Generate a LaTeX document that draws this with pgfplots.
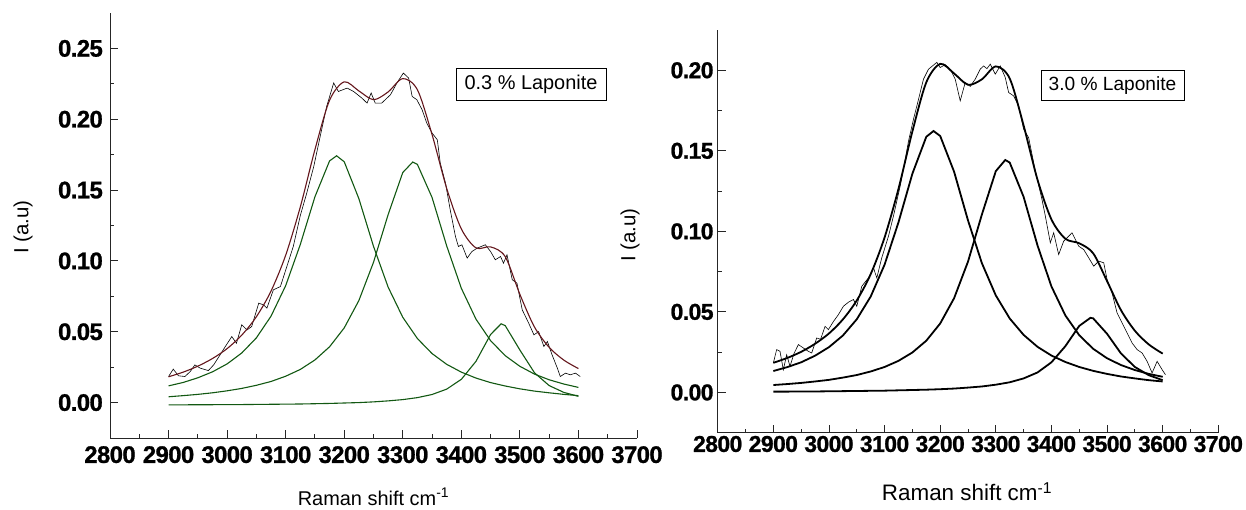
\documentclass[border=0pt]{standalone}
\usepackage{fontspec}
\setmainfont{Liberation Sans}
\newfontfamily\tickfont[LetterSpace=-2.5, BoldFeatures={FakeBold=1}]{Liberation Sans}
\usepackage{pgfplots}
\pgfplotsset{compat=1.18}
\definecolor{fitred}{RGB}{100,22,28}
\definecolor{compgreen}{RGB}{18,88,18}

\pgfplotsset{
  ramanaxis/.style={
    scale only axis,
    xmin=2800, xmax=3700,
    xtick={2800,2900,3000,3100,3200,3300,3400,3500,3600,3700},
    minor x tick num=1, minor y tick num=1,
    axis x line*=bottom, axis y line*=left,
    x axis line style={-}, y axis line style={-},
    axis line style={line width=0.9bp, black!85},
    every tick/.style={line width=0.9bp, black!85},
    tick align=inside,
    major tick length=8bp, minor tick length=4bp,
    /pgf/number format/assume math mode=true,
    xticklabel style={/pgf/number format/set thousands separator={}},
    yticklabel style={/pgf/number format/fixed, /pgf/number format/fixed zerofill,
                      /pgf/number format/precision=2},
    clip=false,
  },
  data/.style={black, line width=0.6bp},
}

\begin{document}
\begin{tikzpicture}
\useasboundingbox (0,0) rectangle (1246bp,510bp);

% ---- left panel: 0.3 % Laponite
\begin{axis}[ramanaxis,
  at={(110bp,72bp)}, anchor=south west,
  width=527bp, height=425bp,
  ymin=-0.025, ymax=0.275,
  ytick={0,0.05,0.1,0.15,0.2,0.25},
  tick label style={font=\tickfont\bfseries\fontsize{24}{24}\selectfont},
  xticklabel style={inner sep=8bp},
  yticklabel style={inner sep=7bp}]
\addplot[compgreen, line width=1.1bp] coordinates {
(2900,0.0118)(2925,0.0142)(2950,0.0175)(2975,0.0217)(3000,0.0273)(3025,0.0350)(3050,0.0457)(3075,0.0610)(3100,0.0825)(3125,0.1116)(3150,0.1453)(3175,0.1706)(3187,0.1742)(3200,0.1700)(3225,0.1440)(3250,0.1103)(3275,0.0815)(3300,0.0602)(3325,0.0452)(3350,0.0346)(3375,0.0270)(3400,0.0215)(3425,0.0173)(3450,0.0141)(3475,0.0117)(3500,0.0097)(3525,0.0081)(3550,0.0069)(3575,0.0058)(3600,0.0049)};
\addplot[compgreen, line width=1.1bp] coordinates {
(2900,0.0041)(2925,0.0049)(2950,0.0058)(2975,0.0069)(3000,0.0083)(3025,0.0100)(3050,0.0122)(3075,0.0149)(3100,0.0186)(3125,0.0234)(3150,0.0301)(3175,0.0394)(3200,0.0527)(3225,0.0720)(3250,0.0990)(3275,0.1327)(3300,0.1624)(3317,0.1698)(3325,0.1681)(3350,0.1448)(3375,0.1106)(3400,0.0807)(3425,0.0589)(3450,0.0437)(3475,0.0331)(3500,0.0256)(3525,0.0201)(3550,0.0161)(3575,0.0131)(3600,0.0107)};
\addplot[compgreen, line width=1.1bp] coordinates {
(2900,-0.0016)(2925,-0.0016)(2950,-0.0015)(2975,-0.0015)(3000,-0.0014)(3025,-0.0014)(3050,-0.0013)(3075,-0.0012)(3100,-0.0011)(3125,-0.0010)(3150,-0.0008)(3175,-0.0006)(3200,-0.0003)(3225,0.0000)(3250,0.0005)(3275,0.0012)(3300,0.0021)(3325,0.0035)(3350,0.0057)(3375,0.0095)(3400,0.0164)(3425,0.0291)(3450,0.0481)(3468,0.0556)(3475,0.0543)(3500,0.0371)(3525,0.0210)(3550,0.0120)(3575,0.0072)(3600,0.0044)};
\addplot[data] coordinates {
(2900,0.0184)(2908,0.0236)(2917,0.0189)(2928,0.0184)(2937,0.0219)(2945,0.0266)(2954,0.0243)(2968,0.0226)(2977,0.0266)(2988,0.0337)(2997,0.0396)(3008,0.0466)(3016,0.0419)(3025,0.0549)(3034,0.0513)(3042,0.0537)(3054,0.0702)(3062,0.0690)(3068,0.0667)(3079,0.0796)(3091,0.0819)(3102,0.0960)(3113,0.1102)(3125,0.1320)(3136,0.1479)(3148,0.1667)(3159,0.1880)(3170,0.2090)(3182,0.2256)(3190,0.2196)(3205,0.2220)(3216,0.2196)(3230,0.2150)(3239,0.2114)(3246,0.2185)(3253,0.2114)(3264,0.2114)(3279,0.2173)(3290,0.2256)(3301,0.2326)(3310,0.2291)(3316,0.2161)(3324,0.2138)(3333,0.2067)(3341,0.1973)(3350,0.1903)(3359,0.1855)(3364,0.1691)(3373,0.1549)(3381,0.1361)(3390,0.1172)(3395,0.1102)(3401,0.1114)(3410,0.1020)(3418,0.1066)(3427,0.1090)(3441,0.1114)(3450,0.1066)(3458,0.1008)(3467,0.1031)(3472,0.0984)(3478,0.1043)(3487,0.0867)(3495,0.0843)(3504,0.0655)(3515,0.0561)(3524,0.0478)(3532,0.0501)(3541,0.0396)(3547,0.0431)(3555,0.0337)(3564,0.0243)(3569,0.0184)(3578,0.0208)(3586,0.0196)(3595,0.0208)(3603,0.0184)};
\addplot[fitred, line width=1.1bp, smooth] coordinates {
(2900,0.0182)(2925,0.0215)(2950,0.0257)(2975,0.0311)(3000,0.0381)(3025,0.0476)(3050,0.0606)(3075,0.0787)(3100,0.1040)(3125,0.1381)(3150,0.1786)(3175,0.2134)(3200,0.2264)(3225,0.2200)(3250,0.2138)(3275,0.2193)(3300,0.2287)(3325,0.2208)(3350,0.1892)(3375,0.1512)(3400,0.1226)(3425,0.1092)(3450,0.1099)(3475,0.1030)(3500,0.0764)(3525,0.0533)(3550,0.0390)(3575,0.0300)(3600,0.0240)};
\end{axis}

% ---- right panel: 3.0 % Laponite
\begin{axis}[ramanaxis,
  at={(717.7bp,77.3bp)}, anchor=south west,
  width=500.6bp, height=402.7bp,
  ymin=-0.025, ymax=0.225,
  ytick={0,0.05,0.1,0.15,0.2},
  tick label style={font=\tickfont\bfseries\fontsize{23}{23}\selectfont},
  xticklabel style={inner sep=3bp},
  yticklabel style={inner sep=4bp}]
\addplot[black, line width=1.8bp] coordinates {
(2900,0.0133)(2925,0.0157)(2950,0.0187)(2975,0.0228)(3000,0.0281)(3025,0.0353)(3050,0.0454)(3075,0.0595)(3100,0.0793)(3125,0.1056)(3150,0.1358)(3175,0.1587)(3188,0.1623)(3200,0.1592)(3225,0.1370)(3250,0.1068)(3275,0.0802)(3300,0.0602)(3325,0.0459)(3350,0.0357)(3375,0.0283)(3400,0.0229)(3425,0.0189)(3450,0.0158)(3475,0.0134)(3500,0.0115)(3525,0.0099)(3550,0.0087)(3575,0.0076)(3600,0.0068)};
\addplot[black, line width=1.8bp] coordinates {
(2900,0.0046)(2925,0.0052)(2950,0.0059)(2975,0.0068)(3000,0.0078)(3025,0.0092)(3050,0.0108)(3075,0.0130)(3100,0.0158)(3125,0.0196)(3150,0.0248)(3175,0.0321)(3200,0.0428)(3225,0.0585)(3250,0.0812)(3275,0.1105)(3300,0.1374)(3317,0.1443)(3325,0.1427)(3350,0.1214)(3375,0.0912)(3400,0.0658)(3425,0.0478)(3450,0.0355)(3475,0.0271)(3500,0.0212)(3525,0.0170)(3550,0.0139)(3575,0.0115)(3600,0.0097)};
\addplot[black, line width=1.8bp] coordinates {
(2900,0.0005)(2925,0.0005)(2950,0.0006)(2975,0.0006)(3000,0.0007)(3025,0.0008)(3050,0.0009)(3075,0.0010)(3100,0.0011)(3125,0.0013)(3150,0.0015)(3175,0.0017)(3200,0.0020)(3225,0.0024)(3250,0.0030)(3275,0.0037)(3300,0.0048)(3325,0.0063)(3350,0.0087)(3375,0.0124)(3400,0.0187)(3425,0.0287)(3450,0.0413)(3470,0.0463)(3475,0.0460)(3500,0.0364)(3525,0.0242)(3550,0.0158)(3575,0.0107)(3600,0.0076)};
\addplot[data] coordinates {
(2900,0.0183)(2906,0.0266)(2912,0.0255)(2918,0.0141)(2924,0.0234)(2930,0.0162)(2937,0.0240)(2945,0.0297)(2954,0.0276)(2963,0.0255)(2969,0.0245)(2978,0.0338)(2985,0.0330)(2993,0.0410)(2999,0.0390)(3008,0.0440)(3017,0.0483)(3026,0.0535)(3035,0.0560)(3044,0.0577)(3050,0.0535)(3059,0.0659)(3071,0.0711)(3080,0.0774)(3086,0.0711)(3095,0.0836)(3107,0.0970)(3116,0.1095)(3128,0.1281)(3134,0.1385)(3143,0.1560)(3152,0.1696)(3161,0.1820)(3170,0.1945)(3179,0.2007)(3194,0.2049)(3200,0.2017)(3209,0.2035)(3218,0.2007)(3227,0.1945)(3236,0.1810)(3245,0.1924)(3254,0.1900)(3263,0.1945)(3272,0.2007)(3278,0.2027)(3284,0.2010)(3290,0.2038)(3299,0.1976)(3308,0.2027)(3317,0.1955)(3323,0.1862)(3332,0.1841)(3341,0.1779)(3350,0.1634)(3359,0.1582)(3371,0.1375)(3383,0.1198)(3389,0.1095)(3398,0.0929)(3404,0.0991)(3413,0.0856)(3422,0.0939)(3437,0.0991)(3449,0.0908)(3458,0.0887)(3467,0.0836)(3476,0.0784)(3485,0.0815)(3494,0.0805)(3500,0.0701)(3509,0.0618)(3518,0.0494)(3527,0.0432)(3536,0.0369)(3545,0.0307)(3554,0.0266)(3563,0.0245)(3572,0.0193)(3581,0.0121)(3590,0.0193)(3599,0.0141)(3605,0.0110)};
\addplot[black, line width=1.8bp, smooth] coordinates {
(2900,0.0184)(2925,0.0214)(2950,0.0252)(2975,0.0302)(3000,0.0366)(3025,0.0453)(3050,0.0571)(3075,0.0734)(3100,0.0962)(3125,0.1264)(3150,0.1620)(3175,0.1925)(3200,0.2040)(3225,0.1980)(3250,0.1910)(3275,0.1944)(3300,0.2024)(3325,0.1949)(3350,0.1657)(3375,0.1320)(3400,0.1074)(3425,0.0954)(3450,0.0926)(3475,0.0864)(3500,0.0691)(3525,0.0511)(3550,0.0383)(3575,0.0298)(3600,0.0241)};
\end{axis}

% axis titles and the boxed sample names
\node[rotate=90, font=\fontsize{20.5}{20.5}\selectfont] at (23bp,283bp) {I (a.u)};
\node[anchor=base, font=\fontsize{20}{20}\selectfont] at (373.5bp,5bp) {Raman shift cm\textsuperscript{-1}};
\node[draw, line width=0.8bp, minimum width=150bp, minimum height=32bp, inner sep=0pt,
      font=\fontsize{20}{20}\selectfont] at (531bp,426bp) {0.3 \% Laponite};

\node[rotate=90, font=\fontsize{20.5}{20.5}\selectfont] at (630bp,275bp) {I (a.u)};
\node[anchor=base, font=\fontsize{22.5}{22.5}\selectfont] at (967bp,9.3bp) {Raman shift cm\textsuperscript{-1}};
\node[draw, line width=0.8bp, minimum width=143bp, minimum height=29.5bp, inner sep=0pt,
      font=\fontsize{19.2}{19.2}\selectfont] at (1112.5bp,424.7bp) {3.0 \% Laponite};
\end{tikzpicture}
\end{document}
